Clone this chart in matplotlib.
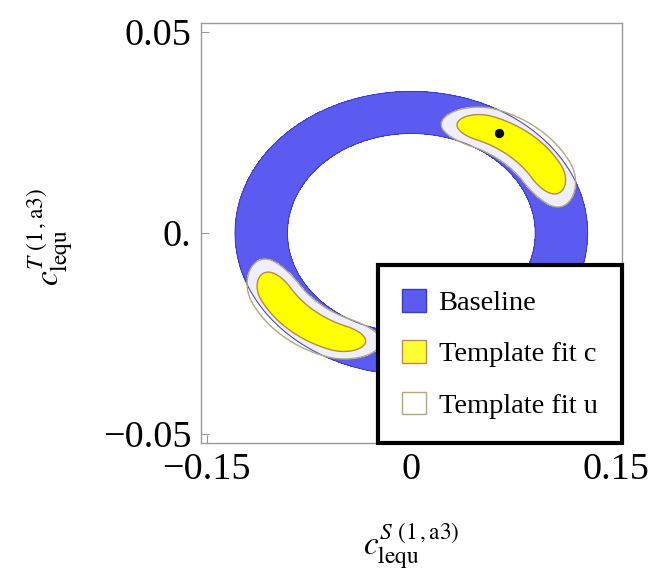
import numpy as np
import matplotlib
matplotlib.use('Agg')
import matplotlib.pyplot as plt
from matplotlib.patches import Patch

plt.rcParams['font.family'] = ['Liberation Serif', 'DejaVu Serif']
plt.rcParams['mathtext.fontset'] = 'stix'

# Axis ranges and ticks
x_range = (-0.1543, 0.1543)
y_range = (-0.0522, 0.0522)
x_ticks = [-0.15, 0.0, 0.15]
x_tick_labels = ['\u22120.15', '0', '0.15']
y_ticks = [-0.05, 0.0, 0.05]
y_tick_labels = ['\u22120.05', '0.', '0.05']

# Baseline: elliptical band in normalised coords (x/semi_x, y/semi_y)
ring_semi_axes = [0.1293, 0.0352]
ring_radii = [0.703, 1.0]

# Template fits: two curved bands lying along the ring
template_angles = [45.0, 225.0]           # band centres, degrees
template_r0 = [0.875, -0.001, -4e-5]      # centre line radius: c0 + c1*dphi + c2*dphi^2
template_half_len = 0.24                  # straight part of the band (half)
template_cap = 0.6                        # squeeze of the rounded ends
template_taper = 0.15                     # narrowing towards the ends
template_levels = [0.098, 0.155]          # c (inner), u (outer) half widths

best_fit = [0.064, 0.0249]

legend_labels = ['Baseline', 'Template fit c', 'Template fit u']

blue = '#5b5bf2'
blue_edge = '#3b3bc4'
yellow = '#ffff00'
yellow_edge = '#b8894c'
u_edge = '#b3a77c'

# evaluation grid
xs = np.linspace(x_range[0], x_range[1], 900)
ys = np.linspace(y_range[0], y_range[1], 900)
X, Y = np.meshgrid(xs, ys)
U = X / ring_semi_axes[0]
V = Y / ring_semi_axes[1]
R = np.hypot(U, V)
PHI = np.degrees(np.arctan2(V, U))

# distance from the centre line of the nearest template band
dist = np.full_like(R, 10.0)
for ang in template_angles:
    dphi = (PHI - ang + 180.0) % 360.0 - 180.0
    r_mid = template_r0[0] + template_r0[1] * dphi + template_r0[2] * dphi ** 2
    along = np.radians(dphi) * template_r0[0]
    width = np.clip(1.0 - template_taper * (dphi / 30.0) ** 2, 0.3, 1.0)
    across = (R - r_mid) / width
    excess = np.maximum(np.abs(along) - template_half_len, 0.0) * template_cap
    dist = np.minimum(dist, np.hypot(excess, across))

fig = plt.figure(figsize=(6.49, 5.70), dpi=100)
ax = fig.add_axes([0.3097, 0.2228, 0.6482, 0.7368])

ax.contourf(X, Y, R, levels=ring_radii, colors=[blue], zorder=1)
ax.contourf(X, Y, dist, levels=[-1.0, template_levels[1]], colors=['white'],
            alpha=0.9, zorder=2)
ax.contour(X, Y, R, levels=ring_radii, colors=[blue_edge], linewidths=0.7, zorder=3)
ax.contour(X, Y, dist, levels=[template_levels[1]], colors=[u_edge],
           linewidths=1.0, zorder=3)
ax.contourf(X, Y, dist, levels=[-1.0, template_levels[0]], colors=[yellow], zorder=4)
ax.contour(X, Y, dist, levels=[template_levels[0]], colors=[yellow_edge],
           linewidths=1.0, zorder=5)
ax.scatter([best_fit[0]], [best_fit[1]], s=32, color='black', zorder=6)

ax.set_xlim(x_range)
ax.set_ylim(y_range)
ax.set_xticks(x_ticks)
ax.set_xticklabels(x_tick_labels)
ax.set_yticks(y_ticks)
ax.set_yticklabels(y_tick_labels)
ax.tick_params(direction='in', length=6, width=0.8, color='#999999',
               labelsize=27.5, pad=7)
for sp in ax.spines.values():
    sp.set_color('#999999')
    sp.set_linewidth(1.0)

ax.set_xlabel(r'$c_{\mathrm{lequ}}^{S\ (1\,,\mathrm{a3})}$', fontsize=24)
ax.xaxis.set_label_coords(0.5, -0.186)
ax.set_ylabel(r'$c_{\mathrm{lequ}}^{T\ (1\,,\mathrm{a3})}$', fontsize=24)
ax.yaxis.set_label_coords(-0.30, 0.49)

handles = [Patch(facecolor=blue, edgecolor=blue_edge, linewidth=1.0),
           Patch(facecolor='#ffff33', edgecolor='#c7845a', linewidth=1.0),
           Patch(facecolor='white', edgecolor=u_edge, linewidth=1.0)]
leg = ax.legend(handles, legend_labels, loc='lower right', bbox_to_anchor=(1.0, 0.0),
                borderaxespad=0.0, fancybox=False, framealpha=1.0, edgecolor='black',
                fontsize=20.5, handlelength=0.84, handleheight=0.84,
                handletextpad=0.45, labelspacing=0.85, borderpad=0.85)
leg.get_frame().set_linewidth(3.0)
leg.set_zorder(10)

fig.savefig('out.png', dpi=100)
